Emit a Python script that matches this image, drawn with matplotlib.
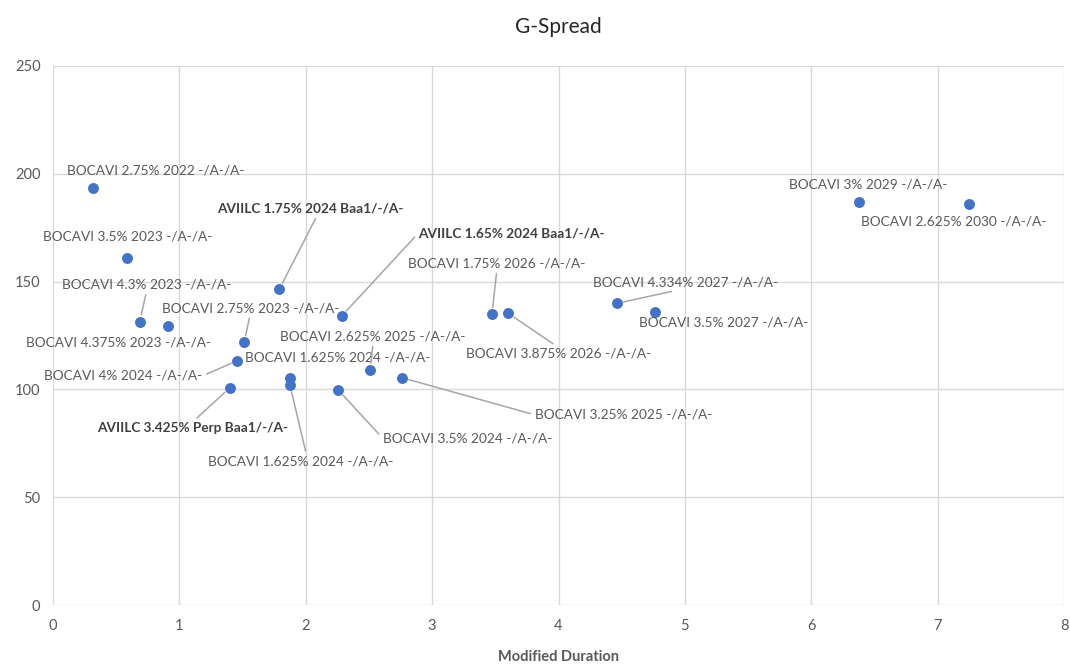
import matplotlib
matplotlib.use("Agg")
import matplotlib.pyplot as plt

plt.rcParams['font.family'] = ['Lato', 'DejaVu Sans']

# bond names (labels) and values
bonds = [
    "BOCAVI 2.75% 2022 -/A-/A-",
    "BOCAVI 3.5% 2023 -/A-/A-",
    "BOCAVI 4.3% 2023 -/A-/A-",
    "BOCAVI 4.375% 2023 -/A-/A-",
    "AVIILC 1.75% 2024 Baa1/-/A-",
    "BOCAVI 2.75% 2023 -/A-/A-",
    "BOCAVI 4% 2024 -/A-/A-",
    "AVIILC 3.425% Perp Baa1/-/A-",
    "BOCAVI 1.625% 2024 -/A-/A-",
    "BOCAVI 1.625% 2024 -/A-/A-",
    "AVIILC 1.65% 2024 Baa1/-/A-",
    "BOCAVI 2.625% 2025 -/A-/A-",
    "BOCAVI 3.5% 2024 -/A-/A-",
    "BOCAVI 3.25% 2025 -/A-/A-",
    "BOCAVI 1.75% 2026 -/A-/A-",
    "BOCAVI 3.875% 2026 -/A-/A-",
    "BOCAVI 4.334% 2027 -/A-/A-",
    "BOCAVI 3.5% 2027 -/A-/A-",
    "BOCAVI 3% 2029 -/A-/A-",
    "BOCAVI 2.625% 2030 -/A-/A-",
]
mod_duration = [0.314, 0.588, 0.686, 0.912, 1.790, 1.513, 1.460, 1.400, 1.875, 1.875,
                2.284, 2.510, 2.257, 2.763, 3.473, 3.602, 4.460, 4.765, 6.377, 7.247]
g_spread = [193.4, 160.8, 131.4, 129.6, 146.4, 121.9, 113.3, 100.8, 105.2, 102.0,
            134.0, 108.9, 99.7, 105.4, 134.8, 135.3, 139.9, 136.0, 187.1, 186.1]

x_ticks = [0, 1, 2, 3, 4, 5, 6, 7, 8]
y_ticks = [0, 50, 100, 150, 200, 250]

# label placement: text centre offset from the point (pixels) and leader attach point
label_pos = [
    (63, 18, None), (0, 22, None), (7, 37, (0.5, 0)), (-50, -17, None),
    (31, 81, (0.54, 0)), (6, 34, (0.5, 0)), (-114, -15, (1, 0.5)), (-37, -40, (0.5, 1)),
    (48, 21, None), (11, -76, (0.53, 1)), (170, 83, (0, 0.5)), (3, 34, (0.5, 0)),
    (129, -48, (0, 0.5)), (221, -37, (0, 0.5)), (5, 51, (0.5, 0)), (50, -40, (0.5, 1)),
    (69, 21, (0.5, 0)), (68, -11, None), (9, 17, None), (-15, -18, None),
]

fig = plt.figure(figsize=(10.7, 6.68), dpi=100)
ax = fig.add_axes([0.0495, 0.0943, 0.945, 0.8069])

ax.scatter(mod_duration, g_spread, s=62, color='#4472C4', zorder=3, linewidths=0)

for name, x, y, (dx, dy, rel) in zip(bonds, mod_duration, g_spread, label_pos):
    bold = name.startswith("AVIILC")
    kw = dict(xy=(x, y), xytext=(dx, dy), textcoords='offset pixels',
              ha='center', va='center', fontsize=9.8,
              color='#404040' if bold else '#595959',
              fontweight='bold' if bold else 'normal', zorder=4)
    if rel is not None:
        kw['arrowprops'] = dict(arrowstyle='-', color='#a6a6a6', lw=1.1,
                                relpos=rel, shrinkA=1, shrinkB=5)
    ax.annotate(name, **kw)

ax.set_xlim(0, 8)
ax.set_ylim(0, 250)
ax.set_xticks(x_ticks)
ax.set_yticks(y_ticks)
ax.grid(True, color='#d9d9d9', lw=1)
ax.set_axisbelow(True)
for s in ax.spines.values():
    s.set_visible(False)
ax.tick_params(length=0, labelsize=10.5, colors='#595959')
ax.tick_params(axis='x', pad=10)
ax.tick_params(axis='y', pad=9)

ax.set_title("G-Spread", fontsize=15, color='#262626', pad=24)
ax.set_xlabel("Modified Duration", fontsize=10.5, fontweight='bold',
              color='#595959', labelpad=12)

fig.savefig("out.png", dpi=100)
